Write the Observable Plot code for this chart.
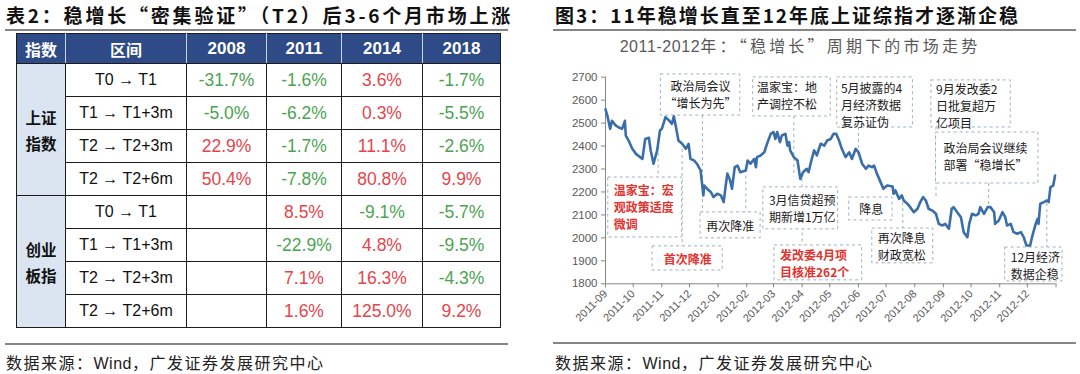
<!DOCTYPE html>
<html lang="zh-CN">
<head>
<meta charset="utf-8">
<script src="https://cdn.jsdelivr.net/npm/d3@7"></script>
<script src="https://cdn.jsdelivr.net/npm/@observablehq/plot@0.6"></script>
<style>
  html, body { margin:0; padding:0; }
  body { width:1080px; height:374px; background:#fff; position:relative; overflow:hidden;
         font-family:"Noto Sans CJK SC", "Liberation Sans", sans-serif; color:#111; }
  .ttl { position:absolute; top:3px; height:24px; line-height:24px; font-weight:700; font-size:19px;
         letter-spacing:2px; white-space:nowrap; color:#111; }
  .rule { position:absolute; height:0; border-top:2px solid #858585; }
  .src { position:absolute; top:351px; height:22px; line-height:22px; font-size:16px; letter-spacing:1.5px;
         white-space:nowrap; color:#222; }
  .src .lat { font-family:"Liberation Sans", Arial, sans-serif; letter-spacing:0.5px; }
  #subttl { position:absolute; left:500px; width:600px; top:34px; height:22px; line-height:22px; text-align:center;
            font-size:16px; letter-spacing:3.2px; color:#595959; white-space:nowrap; }
  #subttl .lat { font-family:"Liberation Sans", Arial, sans-serif; letter-spacing:0.6px; }
  #tbl { position:absolute; left:16px; top:33px; border-collapse:collapse; table-layout:fixed; width:484px; }
  #tbl th, #tbl td { border:1.5px solid #1c1c1c; padding:0; text-align:center; vertical-align:middle;
                     white-space:nowrap; overflow:hidden; }
  #tbl th { background:#2e4a87; color:#fff; font-weight:700; font-size:16px;
            border-left-color:#c9d2e3; border-right-color:#c9d2e3; }
  #tbl th:first-child { border-left-color:#1c1c1c; }
  #tbl th:last-child { border-right-color:#1c1c1c; }
  #tbl th.yr { font-family:"Liberation Sans", Arial, sans-serif; font-size:17px; }
  #tbl thead tr { height:30px; }
  #tbl tbody tr { height:33px; }
  #tbl td.cat { background:#dbe5f1; font-weight:700; font-size:15.5px; line-height:26px; color:#111; }
  #tbl td.iv { font-family:"Liberation Sans", Arial, sans-serif; font-size:16px; color:#111; }
  #tbl td.v { font-family:"Liberation Sans", Arial, sans-serif; font-size:17.5px; }
  #plotwrap { position:absolute; left:553px; top:58px; }
  #plotwrap svg { overflow:visible; }
</style>
</head>
<body>
<div class="ttl" style="left:6px; letter-spacing:2.8px">表2：稳增长“密集验证”（T2）后3-6个月市场上涨</div>
<div class="ttl" style="left:555px">图3：11年稳增长直至12年底上证综指才逐渐企稳</div>
<div class="rule" style="left:5px; width:503px; top:29px"></div>
<div class="rule" style="left:553px; width:523px; top:29px"></div>
<div class="rule" style="left:5px; width:503px; top:343px"></div>
<div class="rule" style="left:553px; width:523px; top:342px"></div>
<div class="src" style="left:6px">数据来源：<span class="lat">Wind</span>，广发证券发展研究中心</div>
<div class="src" style="left:555px">数据来源：<span class="lat">Wind</span>，广发证券发展研究中心</div>
<div id="subttl"><span class="lat">2011-2012</span>年：“稳增长”周期下的市场走势</div>
<table id="tbl"></table>
<div id="plotwrap"></div>
<script>
// ---------- Table data ----------
const tableYears = ["2008", "2011", "2014", "2018"];
const tableIntervals = ["T0 → T1", "T1 → T1+3m", "T2 → T2+3m", "T2 → T2+6m"];
const tableIndexNames = ["上证\n指数", "创业\n板指"];
const shValues  = [[-31.7, -1.6, 3.6, -1.7], [-5.0, -6.2, 0.3, -5.5], [22.9, -1.7, 11.1, -2.6], [50.4, -7.8, 80.8, 9.9]];
const cybValues = [[null, 8.5, -9.1, -5.7], [null, -22.9, 4.8, -9.5], [null, 7.1, 16.3, -4.3], [null, 1.6, 125.0, 9.2]];

// ---------- Chart data (上证综指 2011-09 ~ 2012-12) ----------
const xTickLabels = ["2011-09","2011-10","2011-11","2011-12","2012-01","2012-02","2012-03","2012-04",
                     "2012-05","2012-06","2012-07","2012-08","2012-09","2012-10","2012-11","2012-12"];
const xEnd = "2013-01";
const yTicks = [1800, 1900, 2000, 2100, 2200, 2300, 2400, 2500, 2600, 2700];
const dates = [
 "2011-09-01","2011-09-03","2011-09-06","2011-09-08","2011-09-12","2011-09-15","2011-09-19","2011-09-22","2011-09-23","2011-09-26","2011-09-30",
 "2011-10-04","2011-10-11","2011-10-14","2011-10-18","2011-10-20","2011-10-23","2011-10-27","2011-10-30",
 "2011-11-01","2011-11-05","2011-11-09","2011-11-12","2011-11-14","2011-11-16","2011-11-19","2011-11-23","2011-11-27","2011-11-30",
 "2011-12-02","2011-12-06","2011-12-09","2011-12-13","2011-12-16","2011-12-17","2011-12-20","2011-12-24","2011-12-27","2011-12-31",
 "2012-01-04","2012-01-07","2012-01-09","2012-01-11","2012-01-14","2012-01-16","2012-01-19","2012-01-22","2012-01-25","2012-01-31",
 "2012-02-02","2012-02-05","2012-02-09","2012-02-11","2012-02-12","2012-02-16","2012-02-20","2012-02-23","2012-02-27",
 "2012-03-01","2012-03-03","2012-03-05","2012-03-08","2012-03-10","2012-03-14","2012-03-16","2012-03-18","2012-03-19","2012-03-23","2012-03-27","2012-03-30",
 "2012-04-02","2012-04-06","2012-04-08","2012-04-11","2012-04-14","2012-04-17","2012-04-21","2012-04-25","2012-04-28",
 "2012-05-02","2012-05-05","2012-05-08","2012-05-11","2012-05-14","2012-05-18","2012-05-22","2012-05-25","2012-05-29",
 "2012-06-01","2012-06-05","2012-06-09","2012-06-12","2012-06-16","2012-06-18","2012-06-21","2012-06-25","2012-06-28",
 "2012-07-02","2012-07-08","2012-07-09","2012-07-11","2012-07-15","2012-07-18","2012-07-20","2012-07-24","2012-07-27","2012-07-31",
 "2012-08-04","2012-08-07","2012-08-10","2012-08-13","2012-08-16","2012-08-20","2012-08-24","2012-08-27","2012-08-31",
 "2012-09-03","2012-09-07","2012-09-10","2012-09-12","2012-09-16","2012-09-20","2012-09-23","2012-09-27","2012-09-29",
 "2012-10-02","2012-10-06","2012-10-09","2012-10-11","2012-10-15","2012-10-19","2012-10-22","2012-10-26","2012-10-27","2012-10-31",
 "2012-11-04","2012-11-07","2012-11-09","2012-11-13","2012-11-16","2012-11-20","2012-11-24","2012-11-27","2012-11-30",
 "2012-12-04","2012-12-06","2012-12-10","2012-12-12","2012-12-13","2012-12-15","2012-12-19","2012-12-22","2012-12-24","2012-12-26","2012-12-29","2012-12-31"
];
const closes = [
 2560,2533,2475,2510,2490,2482,2475,2510,2446,2424,2388,
 2366,2344,2431,2436,2380,2323,2381,2468,
 2475,2526,2511,2497,2530,2490,2424,2410,2388,2410,
 2344,2337,2323,2294,2185,2228,2214,2200,2178,2192,
 2185,2156,2221,2280,2250,2214,2308,2315,2286,2294,
 2337,2323,2344,2308,2352,2359,2373,2410,2453,
 2461,2431,2461,2417,2446,2453,2402,2417,2381,2352,2337,2257,
 2286,2301,2286,2337,2381,2359,2410,2402,2424,
 2431,2453,2453,2424,2388,2352,2373,2344,2388,
 2373,2323,2301,2315,2308,2315,2280,2243,2214,
 2228,2224,2192,2207,2170,2185,2163,2149,2134,2112,
 2127,2156,2178,2163,2127,2119,2105,2061,2054,
 2061,2040,2127,2134,2112,2090,2025,2003,2061,
 2105,2098,2105,2134,2105,2134,2134,2112,2061,2076,
 2112,2090,2054,2061,2025,2018,2025,2003,1967,
 1967,2003,2061,2083,2061,2149,2156,2163,2156,2221,2228,2272
];

// ---------- Annotations (date / index units) ----------
const annotations = [
 {text:"政治局会议\n“增长为先”",      x1:"2011-10-31", x2:"2012-01-25", y1:2533, y2:2712, tx:"2011-12-13", ty:2628, align:"middle", key:false},
 {text:"温家宝：地\n产调控不松",       x1:"2012-02-08", x2:"2012-05-02", y1:2529, y2:2699, tx:"2012-02-12", ty:2622, align:"start",  key:false},
 {text:"5月披露的4\n月经济数据\n复苏证伪", x1:"2012-05-09", x2:"2012-07-30", y1:2481, y2:2699, tx:"2012-05-13", ty:2581, align:"start", key:false},
 {text:"9月发改委2\n日批复超万\n亿项目", x1:"2012-08-19", x2:"2012-11-13", y1:2481, y2:2686, tx:"2012-08-24", ty:2575, align:"start", key:false},
 {text:"政治局会议继续\n部署“稳增长”",  x1:"2012-08-24", x2:"2012-12-13", y1:2237, y2:2459, tx:"2012-09-01", ty:2355, align:"start",  key:false},
 {text:"温家宝：宏\n观政策适度\n微调", x1:"2011-09-04", x2:"2011-11-23", y1:2002, y2:2263, tx:"2011-09-10", ty:2137, align:"start", key:true},
 {text:"首次降准",                   x1:"2011-10-22", x2:"2012-01-06", y1:1858, y2:1963, tx:"2011-11-29", ty:1910, align:"middle", key:true},
 {text:"再次降准",                   x1:"2011-12-13", x2:"2012-02-16", y1:1998, y2:2111, tx:"2012-01-14", ty:2054, align:"middle", key:false},
 {text:"3月信贷超预\n期新增1万亿",     x1:"2012-02-19", x2:"2012-05-10", y1:2037, y2:2220, tx:"2012-02-25", ty:2128, align:"start",  key:false},
 {text:"发改委4月项\n目核准262个",     x1:"2012-03-02", x2:"2012-06-05", y1:1815, y2:1967, tx:"2012-03-08", ty:1891, align:"start",  key:true},
 {text:"降息",                       x1:"2012-05-22", x2:"2012-07-08", y1:2076, y2:2176, tx:"2012-06-15", ty:2126, align:"middle", key:false},
 {text:"再次降息\n财政宽松",           x1:"2012-06-16", x2:"2012-08-21", y1:1889, y2:2041, tx:"2012-06-22", ty:1965, align:"start",  key:false},
 {text:"12月经济\n数据企稳",           x1:"2012-11-07", x2:"2013-01-08", y1:1810, y2:1958, tx:"2012-11-13", ty:1882, align:"start",  key:false}
];
const leaders = [
 {x:"2011-10-28", y1:2395, y2:2263},
 {x:"2011-11-23", y1:2385, y2:1963},
 {x:"2011-12-15", y1:2533, y2:2111},
 {x:"2012-01-31", y1:2270, y2:2111},
 {x:"2012-03-23", y1:2529, y2:2265},
 {x:"2012-04-01", y1:2257, y2:1967},
 {x:"2012-06-01", y1:2481, y2:2390},
 {x:"2012-07-19", y1:2180, y2:2041},
 {x:"2012-08-24", y1:2481, y2:2170},
 {x:"2012-10-20", y1:2237, y2:2140},
 {x:"2012-12-22", y1:2150, y2:1958}
];

// ---------- Build table ----------
(function buildTable() {
  const fmt = v => v == null ? "" : v.toFixed(1) + "%";
  const col = v => v == null ? "#111" : (v >= 0 ? "#e4454b" : "#4ca452");
  let h = '<colgroup><col style="width:49px"><col style="width:121px"><col style="width:80px">' +
          '<col style="width:75px"><col style="width:81px"><col style="width:78px"></colgroup>';
  h += '<thead><tr><th>指数</th><th>区间</th>' + tableYears.map(y => `<th class="yr">${y}</th>`).join("") + '</tr></thead><tbody>';
  [shValues, cybValues].forEach((vals, gi) => {
    vals.forEach((row, ri) => {
      h += '<tr>';
      if (ri === 0) h += `<td class="cat" rowspan="${vals.length}">${tableIndexNames[gi].replace("\n", "<br>")}</td>`;
      h += `<td class="iv">${tableIntervals[ri]}</td>`;
      h += row.map(v => `<td class="v" style="color:${col(v)}">${fmt(v)}</td>`).join("");
      h += '</tr>';
    });
  });
  h += '</tbody>';
  document.getElementById("tbl").innerHTML = h;
})();

// ---------- Build chart ----------
const parse = d3.utcParse("%Y-%m-%d");
const series = dates.map((d, i) => ({date: parse(d), close: closes[i]}));
const notes = annotations.map(a => ({...a, x1: parse(a.x1), x2: parse(a.x2), tx: parse(a.tx)}));
const leaderRows = leaders.map(l => ({...l, x: parse(l.x)}));
const tickDates = xTickLabels.concat([xEnd]).map(s => parse(s + "-01"));
const fmtMonth = d3.utcFormat("%Y-%m");

const boxStroke = "#9fb0c4";
const textBase = {x: "tx", y: "ty", text: "text", fontFamily: "'Noto Sans CJK SC', sans-serif",
                  fontSize: 12, lineHeight: 1.42, lineAnchor: "middle"};

const chart = Plot.plot({
  width: 527,
  height: 282,
  marginLeft: 52,
  marginRight: 24.5,
  marginTop: 18.7,
  marginBottom: 56.7,
  x: {type: "utc", domain: [tickDates[0], tickDates[tickDates.length - 1]]},
  y: {domain: [1800, 2700]},
  style: {background: "transparent", fontFamily: "'Liberation Sans', Arial, sans-serif", fontSize: "11px", color: "#595959"},
  marks: [
    Plot.ruleX(leaderRows, {x: "x", y1: "y1", y2: "y2", stroke: boxStroke, strokeDasharray: "3,3", strokeWidth: 1}),
    Plot.rect(notes, {x1: "x1", x2: "x2", y1: "y1", y2: "y2", fill: "white", stroke: boxStroke, strokeDasharray: "3,3", strokeWidth: 1}),
    Plot.ruleX([tickDates[0]], {stroke: "#868686", strokeWidth: 1}),
    Plot.ruleY([1800], {stroke: "#868686", strokeWidth: 1}),
    Plot.axisY({ticks: yTicks, tickFormat: d => String(d), tickSize: 4, tickPadding: 4, label: null,
                stroke: "#868686", fill: "#595959", fontSize: 11.5}),
    Plot.axisX({ticks: tickDates, tickFormat: d => { const s = fmtMonth(d); return xTickLabels.includes(s) ? s : ""; },
                tickRotate: -45, tickSize: 4, tickPadding: 4, label: null, stroke: "#868686", fill: "#595959"}),
    Plot.line(series, {x: "date", y: "close", stroke: "#3a6ea8", strokeWidth: 2.6}),
    Plot.text(notes.filter(d => !d.key && d.align === "start"),  {...textBase, textAnchor: "start",  fill: "#1a1a1a"}),
    Plot.text(notes.filter(d => !d.key && d.align === "middle"), {...textBase, textAnchor: "middle", fill: "#1a1a1a"}),
    Plot.text(notes.filter(d => d.key && d.align === "start"),   {...textBase, textAnchor: "start",  fill: "#e2332f", fontWeight: 700}),
    Plot.text(notes.filter(d => d.key && d.align === "middle"),  {...textBase, textAnchor: "middle", fill: "#e2332f", fontWeight: 700})
  ]
});
document.getElementById("plotwrap").appendChild(chart);
</script>
</body>
</html>
